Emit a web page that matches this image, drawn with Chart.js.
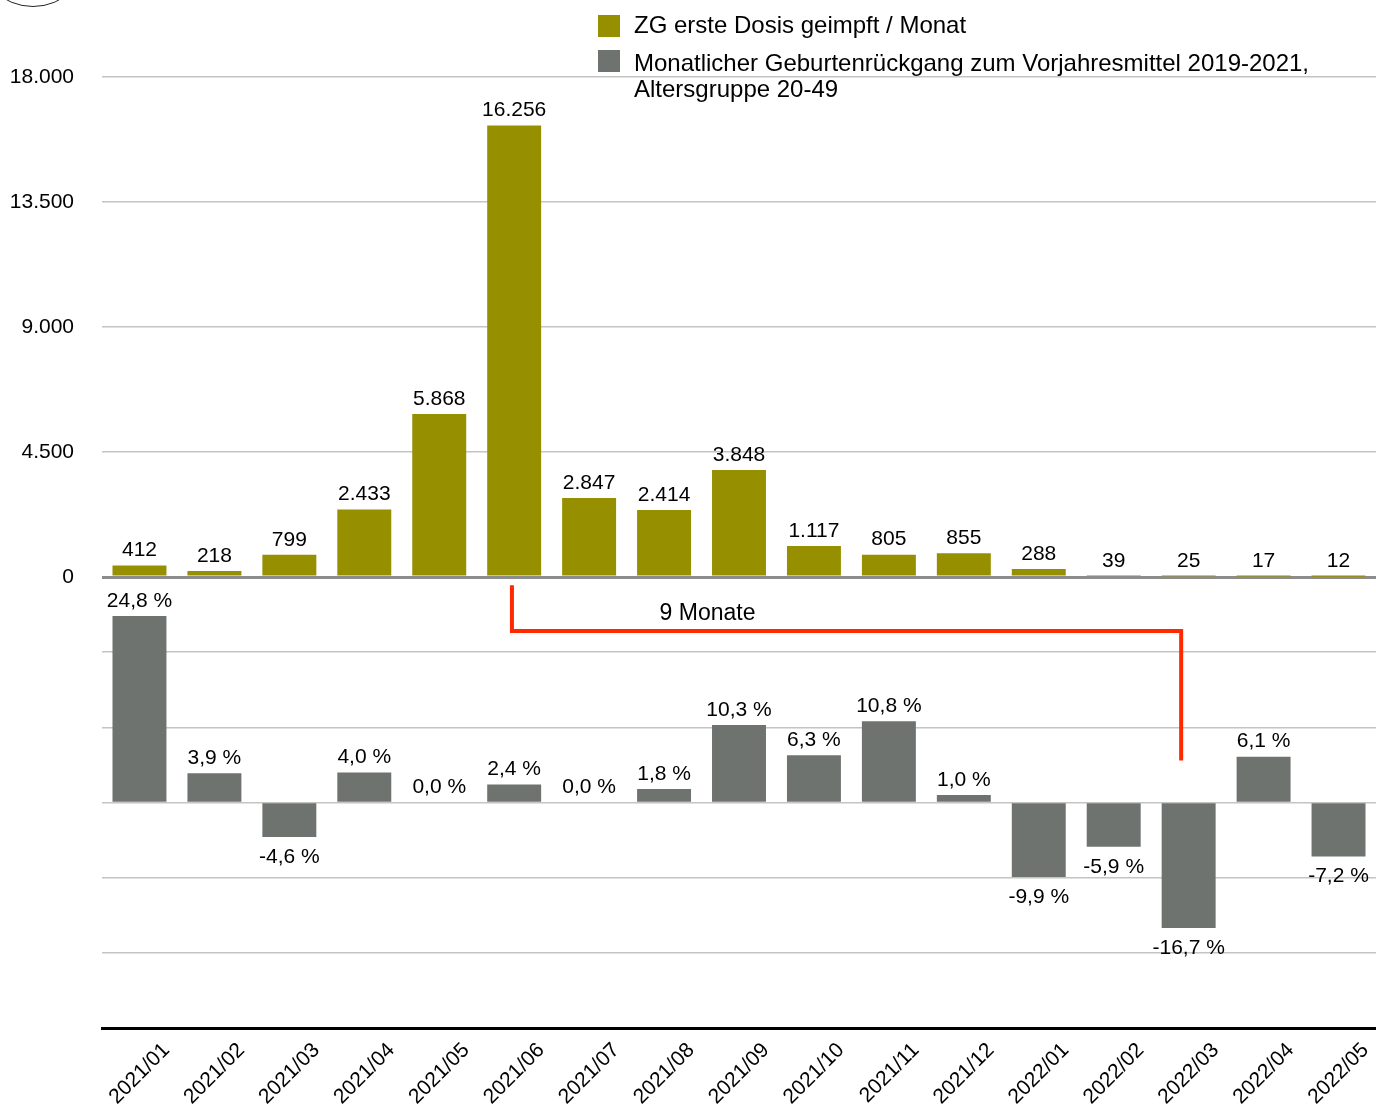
<!DOCTYPE html>
<html>
<head>
<meta charset="utf-8">
<script src="https://cdn.jsdelivr.net/npm/chart.js@4/dist/chart.umd.min.js"></script>
<style>
  body { margin: 0; background: #fff; }
  #wrap { position: relative; width: 1376px; height: 1104px; overflow: hidden; }
  #logo { position: absolute; left: -24px; top: -107px; width: 112px; height: 112px; border: 1px solid #222; border-radius: 50%; }
</style>
</head>
<body>
<div id="wrap">
  <canvas id="chart"></canvas>
  <div id="logo"></div>
</div>
<script>
// Chart data
const months = ['2021/01', '2021/02', '2021/03', '2021/04', '2021/05', '2021/06', '2021/07', '2021/08', '2021/09',
  '2021/10', '2021/11', '2021/12', '2022/01', '2022/02', '2022/03', '2022/04', '2022/05'];
const firstDoses = [412, 218, 799, 2433, 5868, 16256, 2847, 2414, 3848, 1117, 805, 855, 288, 39, 25, 17, 12];
const birthChange = [24.8, 3.9, -4.6, 4.0, 0.0, 2.4, 0.0, 1.8, 10.3, 6.3, 10.8, 1.0, -9.9, -5.9, -16.7, 6.1, -7.2];
const doseRange = [0, 18000];
const changeRange = [-30, 30];
const legendLines = [
  ['ZG erste Dosis geimpft / Monat'],
  ['Monatlicher Geburtenrückgang zum Vorjahresmittel 2019-2021,', 'Altersgruppe 20-49'],
];
// red bracket "9 Monate" (x = month index, y = percent on lower panel)
const bracketX = [4.97, 4.97, 13.9, 13.9];
const bracketY = [28.9, 22.8, 22.8, 5.6];
const bracketText = '9 Monate';
const bracketTextPos = [7.58, 25.1];

const OLIVE = '#968f00';
const GREY = '#6e7370';
const FONT = '"Liberation Sans", Arial, sans-serif';

Chart.defaults.font.family = FONT;
Chart.defaults.color = '#000';

function fmtInt(v) {
  return String(v).replace(/\B(?=(\d{3})+(?!\d))/g, '.');
}
function fmtPct(v) {
  return v.toFixed(1).replace('.', ',') + ' %';
}

// value labels, bracket and legend
const overlay = {
  id: 'overlay',
  afterDatasetsDraw(chart) {
    const ctx = chart.ctx;
    const x = chart.scales.x;
    const y2 = chart.scales.y2;
    ctx.save();
    ctx.font = '21px ' + FONT;
    ctx.fillStyle = '#000';
    ctx.textAlign = 'center';
    ctx.textBaseline = 'middle';
    chart.getDatasetMeta(0).data.forEach((bar, i) => {
      ctx.fillText(fmtInt(firstDoses[i]), bar.x, bar.y - 15);
    });
    chart.getDatasetMeta(1).data.forEach((bar, i) => {
      const v = birthChange[i];
      ctx.fillText(fmtPct(v), bar.x, v < 0 ? bar.y + 20 : bar.y - 15);
    });

    // bracket
    ctx.strokeStyle = '#ff2a00';
    ctx.lineWidth = 4;
    ctx.lineJoin = 'miter';
    ctx.beginPath();
    bracketX.forEach((bx, i) => {
      const px = x.getPixelForValue(bx);
      const py = y2.getPixelForValue(bracketY[i]);
      if (i === 0) ctx.moveTo(px, py); else ctx.lineTo(px, py);
    });
    ctx.stroke();
    ctx.font = '23px ' + FONT;
    ctx.fillText(bracketText, x.getPixelForValue(bracketTextPos[0]), y2.getPixelForValue(bracketTextPos[1]));
    ctx.restore();
  },
  afterDraw(chart) {
    const ctx = chart.ctx;
    ctx.save();
    ctx.font = '24px ' + FONT;
    ctx.textAlign = 'left';
    ctx.textBaseline = 'alphabetic';
    const colors = [OLIVE, GREY];
    const boxTops = [15, 50];
    const baselines = [[33], [71, 97]];
    legendLines.forEach((lines, i) => {
      ctx.fillStyle = colors[i];
      ctx.fillRect(598, boxTops[i], 22, 22);
      ctx.fillStyle = '#000';
      lines.forEach((t, j) => ctx.fillText(t, 634, baselines[i][j]));
    });
    ctx.restore();
  }
};

const ctx = document.getElementById('chart').getContext('2d');
new Chart(ctx, {
  type: 'bar',
  data: {
    labels: months,
    datasets: [{
      label: legendLines[0].join(' '),
      data: firstDoses,
      yAxisID: 'y',
      backgroundColor: OLIVE,
    }, {
      label: legendLines[1].join(' '),
      data: birthChange,
      yAxisID: 'y2',
      backgroundColor: GREY,
    }],
  },
  options: {
    responsive: true,
    maintainAspectRatio: false,
    animation: false,
    grouped: false,
    barPercentage: 0.72,
    categoryPercentage: 1,
    layout: { padding: { top: 77, left: 0, right: 0, bottom: 0 } },
    plugins: {
      legend: { display: false },
      tooltip: { enabled: false },
    },
    scales: {
      x: {
        grid: { display: false, drawTicks: false },
        border: { display: true, color: '#000', width: 3 },
        ticks: {
          autoSkip: false,
          minRotation: 45,
          maxRotation: 45,
          labelOffset: 27,
          padding: 10,
          color: '#000',
          font: { size: 21 },
        },
        afterFit: (s) => { s.height = 76; },
      },
      // lower panel (listed first: left-side stacks are placed in reverse order)
      y2: {
        stack: 'panels',
        stackWeight: 451,
        min: changeRange[0],
        max: changeRange[1],
        ticks: { stepSize: 10, display: false },
        grid: {
          drawTicks: false,
          color: (c) => {
            if (!c.tick) return '#c4c4c4';
            if (c.tick.value === 30) return '#8c8c8c';
            if (c.tick.value === -30) return '#000';
            return '#c4c4c4';
          },
          lineWidth: (c) => c.tick && Math.abs(c.tick.value) === 30 ? 3 : 1.5,
        },
        border: { display: false },
        afterFit: (s) => { s.width = 102; },
      },
      y: {
        stack: 'panels',
        stackWeight: 500,
        min: doseRange[0],
        max: doseRange[1],
        ticks: {
          stepSize: 4500,
          padding: 28,
          color: '#000',
          font: { size: 21 },
          callback: (v) => fmtInt(v),
        },
        grid: {
          drawTicks: false,
          color: (c) => c.tick && c.tick.value === 0 ? '#8c8c8c' : '#c4c4c4',
          lineWidth: (c) => c.tick && c.tick.value === 0 ? 3 : 1.5,
        },
        border: { display: false },
        afterFit: (s) => { s.width = 102; },
      },
    },
  },
  plugins: [overlay],
});
</script>
</body>
</html>
